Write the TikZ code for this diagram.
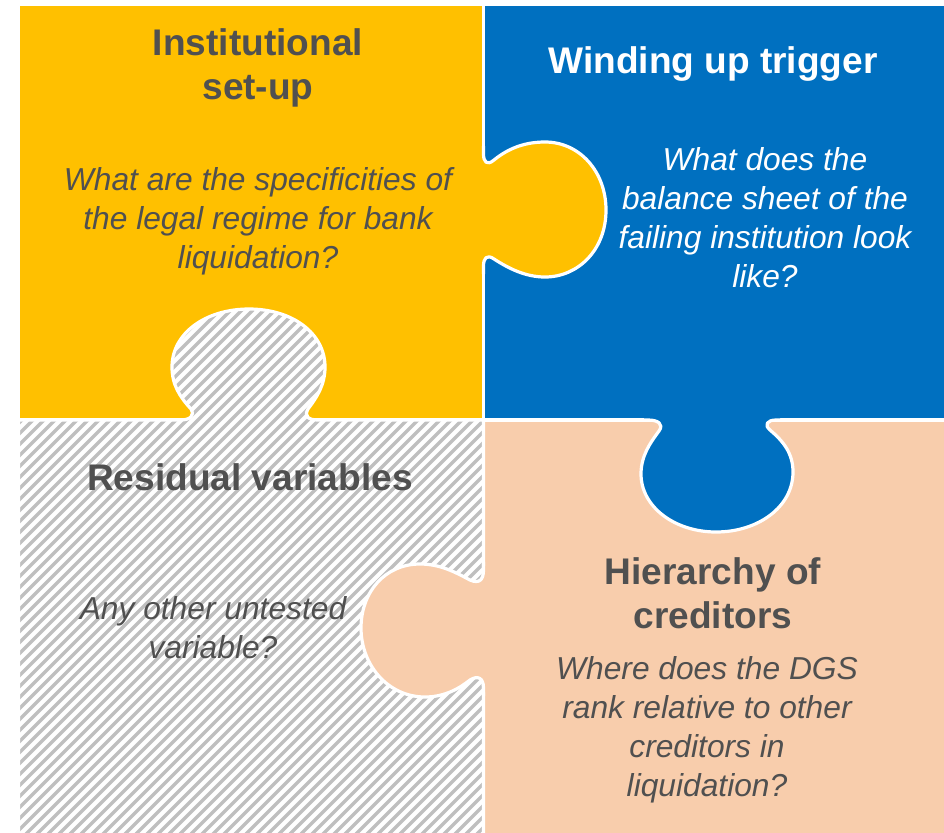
\documentclass[tikz,border=0pt]{standalone}
\usepackage{fontspec}
\setmainfont{Liberation Sans}
\usepackage{xcolor}
\usepackage{tikz}

\definecolor{pieceyellow}{HTML}{FFC000}
\definecolor{pieceblue}{HTML}{0070C0}
\definecolor{piecepeach}{HTML}{F8CDAC}
\definecolor{stripegray}{HTML}{BFBFBF}
\definecolor{textgray}{HTML}{505050}

% tab outlines, shared by the fill and the white cut line
\newcommand{\tabyellow}{(483.5,154) .. controls (483.5,162) and (487,166) .. (494,160)
  .. controls (510,147) and (527,142) .. (545,142) .. controls (580,142) and (606,172) .. (606,210)
  .. controls (606,250) and (578,277) .. (545,277) .. controls (525,277) and (508,268) .. (494,259)
  .. controls (487,254) and (483.5,258) .. (483.5,266)}
\newcommand{\tabhatch}{(180,420) .. controls (190,420) and (195,416) .. (191,409)
  .. controls (180,397) and (172,385) .. (172,367) .. controls (172,333) and (206,309) .. (249,309)
  .. controls (292,309) and (325,333) .. (325,367) .. controls (325,385) and (317,397) .. (308,409)
  .. controls (304,416) and (308,420) .. (318,420)}
\newcommand{\tabblue}{(648,420) .. controls (658,420) and (664,424) .. (659,431)
  .. controls (650,443) and (641,456) .. (641,474) .. controls (641,507) and (675,532) .. (716,532)
  .. controls (758,532) and (793,507) .. (793,472) .. controls (793,453) and (783,441) .. (770,430)
  .. controls (764,425) and (767,420) .. (776,420)}
\newcommand{\tabpeach}{(483.5,570) .. controls (483.5,580) and (479,584) .. (470,580)
  .. controls (455,572) and (440,564) .. (420,564) .. controls (385,564) and (361,592) .. (361,628)
  .. controls (361,665) and (388,697) .. (425,697) .. controls (445,697) and (460,688) .. (470,680)
  .. controls (478,675) and (483.5,678) .. (483.5,688)}

\tikzset{
  cut/.style={draw=white, line width=2.4pt, line join=round},
  title/.style={font=\bfseries\fontsize{27.8}{33}\selectfont, align=center, text=textgray},
  question/.style={font=\itshape\fontsize{23.8}{29.2}\selectfont, align=center, text=textgray},
}

\begin{document}
\begin{tikzpicture}[x=0.75pt, y=-0.75pt]
  \useasboundingbox (0,0) rectangle (944,832);

  % the four quarters
  \filldraw[fill=pieceyellow, cut] (18.5,4) rectangle (483.5,420);
  \filldraw[fill=pieceblue, cut] (483.5,4) rectangle (947,420);
  \filldraw[fill=piecepeach, cut] (483.5,420) rectangle (947,836);
  \path[fill=white, cut, path picture={
      \foreach \k in {-540,-529,...,490}
        \draw[stripegray, line width=2.6pt] (\k,850) -- ++(560,-560);
    }]
    (18.5,420) -- \tabhatch -- (483.5,420) -- (483.5,836) -- (18.5,836) -- cycle;

  % tabs reaching into the next piece
  \fill[pieceyellow] (478,150) -- \tabyellow -- (478,272) -- cycle;
  \draw[cut] (483.5,146) -- \tabyellow -- (483.5,274);
  \fill[pieceblue] (644,415) -- (644,420) -- \tabblue -- (780,420) -- (780,415) -- cycle;
  \draw[cut] (640,420) -- \tabblue -- (785,420);
  \fill[piecepeach] (489,566) -- (483.5,566) -- \tabpeach -- (483.5,692) -- (489,692) -- cycle;
  \draw[cut] (483.5,562) -- \tabpeach -- (483.5,696);

  % texts
  \node[title] (setuptitle) at (258,68) {Institutional\\set-up};
  \node[question] (setupq) at (258,221) {What are the specificities of\\the legal regime for bank\\liquidation?};
  \node[title, text=white] (triggertitle) at (713,64) {Winding up trigger};
  \node[question, text=white] (triggerq) at (765,218) {What does the\\balance sheet of the\\failing institution look\\like?};
  \node[title] (residualtitle) at (250,477) {Residual variables};
  \node[question] (residualq) at (213,628) {Any other untested\\variable?};
  \node[title] (hierarchytitle) at (713,593) {Hierarchy of\\creditors};
  \node[question] (hierarchyq) at (707,730) {Where does the DGS\\rank relative to other\\creditors in\\liquidation?};
\end{tikzpicture}
\end{document}
